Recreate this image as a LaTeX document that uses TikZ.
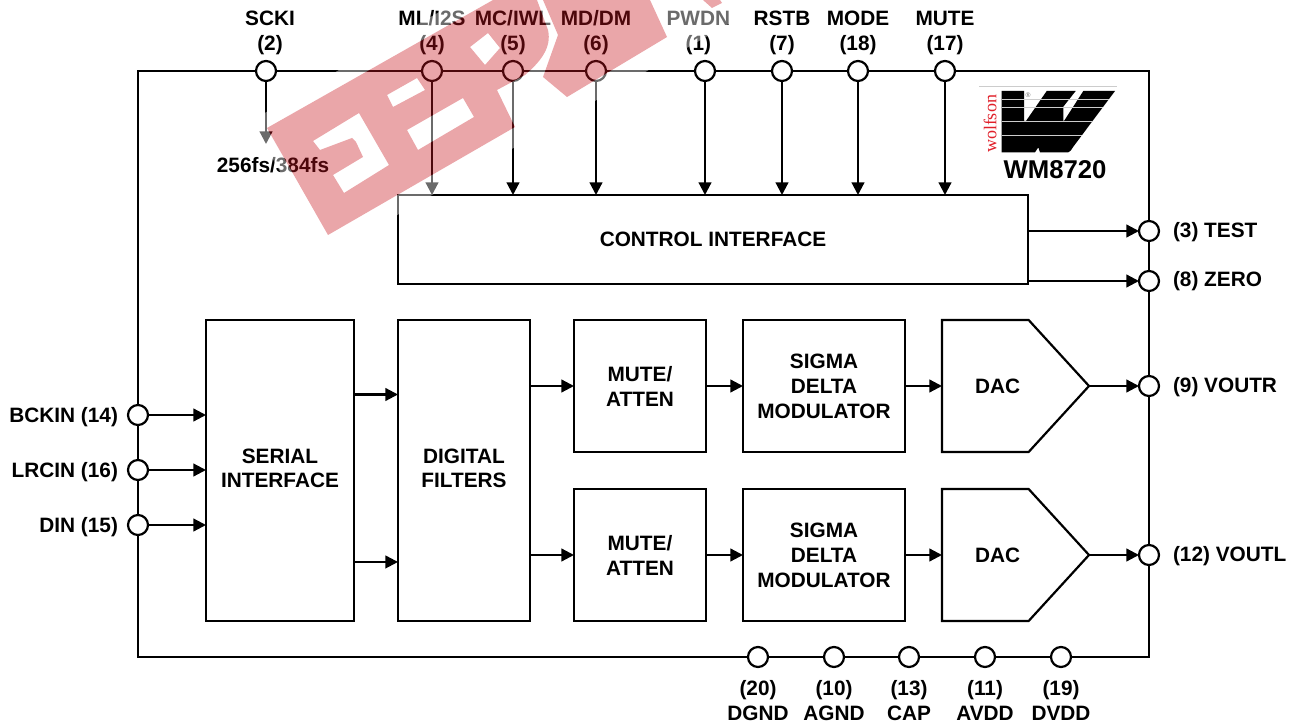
\documentclass[tikz,border=0pt]{standalone}
\usepackage{fontspec}
\setmainfont{Liberation Sans}
\newfontfamily\logofont{Liberation Serif}
\usepackage{xcolor}
\usepackage{tikz}
\usetikzlibrary{arrows.meta,positioning,shapes.symbols}
\definecolor{ink}{HTML}{000000}
\definecolor{wmred}{HTML}{C8141E}
\definecolor{logored}{HTML}{E0202A}
\definecolor{logoline}{HTML}{CCCCCC}
\newcommand{\wmshape}{
  (267,128) -- (328,235) -- (515,127) -- (497,90) -- (525,75) .. controls (540,62) and (552,48) .. (548,30) -- (537,0) -- (493,0) -- cycle
  (313,141) -- (359,113) -- (389,165) -- (344,193) -- (333,175) -- (363,157) -- (356,142) -- (352,138) -- (320,150) -- cycle
  (387,95) -- (417,78) -- (425,90) -- (393,107) -- cycle
  (407,130) -- (463,98) -- (474,117) -- (418,150) -- cycle
  (470,47) -- (488,33) -- (500,48) -- (485,65) -- cycle
  (543,0) -- (558,35) -- (543,77) -- (567,97) -- (667,37) -- (650,0) -- cycle
  (703,0) -- (712,8) -- (722,3) -- (720,0) -- cycle
}

\begin{document}
\begin{tikzpicture}[
  x=0.75pt, y=-0.75pt,
  every node/.style={font=\fontsize{15.6}{18.75}\selectfont\bfseries, inner sep=0pt, outer sep=0pt},
  blk/.style={rectangle, draw=ink, line width=1.65pt, align=center},
  sqblk/.style={blk, minimum width=99pt, minimum height=99pt},
  sdblk/.style={blk, minimum width=121.5pt, minimum height=99pt},
  dacblk/.style={signal, signal to=east, signal from=nowhere, signal pointer angle=95.1, draw=ink, line width=1.65pt, minimum width=110.25pt, minimum height=99pt},
  pin/.style={circle, draw=ink, fill=white, line width=1.65pt, minimum size=15pt},
  lbl/.style={align=center},
  arr/.style={-{Triangle[length=9.5pt,width=9.5pt]}, line width=1.65pt, draw=ink},
]
\useasboundingbox (0,0) rectangle (1299,723);
\node[blk, minimum width=758.25pt, minimum height=439.5pt] (chip) at (643.5,364) {};

\node[blk, minimum width=472.5pt, minimum height=66.75pt] (ctrl) at (713,239.5) {CONTROL INTERFACE};
\node[blk, minimum width=111pt, minimum height=225.75pt] (serial) at (280,470.5) {\raisebox{1.5pt}{\begin{tabular}{@{}c@{}}SERIAL\\[-1.1pt]INTERFACE\end{tabular}}};
\node[blk, minimum width=99pt, minimum height=225.75pt, right=33pt of serial] (filt) {\raisebox{1.5pt}{\begin{tabular}{@{}c@{}}DIGITAL\\[-1.1pt]FILTERS\end{tabular}}};
\node[sqblk, right=33pt of filt.north east, anchor=north west] (mutea) {MUTE/\\ATTEN};
\node[sqblk, below=27.75pt of mutea] (muteb) {MUTE/\\ATTEN};
\node[sdblk, right=27.75pt of mutea] (sigmaa) {SIGMA\\DELTA\\MODULATOR};
\node[sdblk, right=27.75pt of muteb] (sigmab) {SIGMA\\DELTA\\MODULATOR};
\node[dacblk, right=27.75pt of sigmaa] (daca) {};
\node[dacblk, right=27.75pt of sigmab] (dacb) {};
\node[right=24.75pt of daca.west] (dacatxt) {DAC};
\node[right=24.75pt of dacb.west] (dacbtxt) {DAC};

\node[pin] (pscki) at (266,71) {};
\node[pin] (pml) at (432,71) {};
\node[pin] (pmc) at (513,71) {};
\node[pin] (pmd) at (596,71) {};
\node[pin] (ppwdn) at (705,71) {};
\node[pin] (prstb) at (782,71) {};
\node[pin] (pmode) at (858,71) {};
\node[pin] (pmute) at (945,71) {};
\node[pin] (pbck) at (138,415) {};
\node[pin] (plrc) at (138,470) {};
\node[pin] (pdin) at (138,525) {};
\node[pin] (ptest) at (1149,231) {};
\node[pin] (pzero) at (1149,281) {};
\node[pin] (pvoutr) at (1149,386) {};
\node[pin] (pvoutl) at (1149,555) {};
\node[pin] (pdgnd) at (758,657) {};
\node[pin] (pagnd) at (834,657) {};
\node[pin] (pcap) at (909,657) {};
\node[pin] (pavdd) at (985,657) {};
\node[pin] (pdvdd) at (1061,657) {};

\node[lbl, above=4.9pt of pscki, xshift=3pt] (tscki) {SCKI\\(2)};
\node[lbl, above=4.9pt of pml] (tml) {ML/I2S\\(4)};
\node[lbl, above=4.9pt of pmc] (tmc) {MC/IWL\\(5)};
\node[lbl, above=4.9pt of pmd] (tmd) {MD/DM\\(6)};
\node[lbl, above=4.9pt of ppwdn, xshift=-5pt] (tpwdn) {PWDN\\(1)};
\node[lbl, above=4.9pt of prstb] (trstb) {RSTB\\(7)};
\node[lbl, above=4.9pt of pmode] (tmode) {MODE\\(18)};
\node[lbl, above=4.9pt of pmute] (tmute) {MUTE\\(17)};
\node[left=7.5pt of pbck, yshift=-1.5pt] (tbck) {BCKIN (14)};
\node[left=7.5pt of plrc, yshift=-1.5pt] (tlrc) {LRCIN (16)};
\node[left=7.5pt of pdin, yshift=-1.5pt] (tdin) {DIN (15)};
\node[right=10.5pt of ptest, yshift=-0.7pt] (ttest) {(3) TEST};
\node[right=10.5pt of pzero, yshift=0.2pt] (tzero) {(8) ZERO};
\node[right=10.5pt of pvoutr, yshift=-0.7pt] (tvoutr) {(9) VOUTR};
\node[right=10.5pt of pvoutl, yshift=-0.7pt] (tvoutl) {(12) VOUTL};
\node[lbl, below=9.7pt of pdgnd] (tdgnd) {(20)\\DGND};
\node[lbl, below=9.7pt of pagnd] (tagnd) {(10)\\AGND};
\node[lbl, below=9.7pt of pcap] (tcap) {(13)\\CAP};
\node[lbl, below=9.7pt of pavdd] (tavdd) {(11)\\AVDD};
\node[lbl, below=9.7pt of pdvdd] (tdvdd) {(19)\\DVDD};
\node (tfs) at (273,165) {256fs/384fs};
\coordinate (sckiend) at (266,144);

\draw[arr] (pscki) -- (sckiend);
\draw[arr] (pml) -- (pml |- ctrl.north);
\draw[arr] (pmc) -- (pmc |- ctrl.north);
\draw[arr] (pmd) -- (pmd |- ctrl.north);
\draw[arr] (ppwdn) -- (ppwdn |- ctrl.north);
\draw[arr] (prstb) -- (prstb |- ctrl.north);
\draw[arr] (pmode) -- (pmode |- ctrl.north);
\draw[arr] (pmute) -- (pmute |- ctrl.north);
\draw[arr] (ctrl.east |- ptest) -- (ptest);
\draw[arr] (ctrl.east |- pzero) -- (pzero);
\draw[arr] (pbck) -- (pbck -| serial.west);
\draw[arr] (plrc) -- (plrc -| serial.west);
\draw[arr] (pdin) -- (pdin -| serial.west);
\draw[arr] ([yshift=57pt]serial.east) -- ([yshift=57pt]filt.west);
\draw[arr] ([yshift=-68.6pt]serial.east) -- ([yshift=-68.6pt]filt.west);
\draw[arr] (filt.east |- mutea) -- (mutea);
\draw[arr] (filt.east |- muteb) -- (muteb);
\draw[arr] (mutea) -- (sigmaa);
\draw[arr] (muteb) -- (sigmab);
\draw[arr] (sigmaa) -- (daca);
\draw[arr] (sigmab) -- (dacb);
\draw[arr] (daca.east) -- (pvoutr);
\draw[arr] (dacb.east) -- (pvoutl);

\draw[logoline, line width=0.75pt] (979,87) -- (1117,87);
\fill[ink] (1001.7,91) -- (1024,91) -- (1024,121) -- (1026,121) -- (1046.7,91) -- (1075.7,91) -- (1063.3,106.7) -- (1063.3,121) -- (1064,121) -- (1083.3,91) -- (1115,91) -- (1073.3,146.7) .. controls (1071,150) and (1070,152.3) .. (1068.3,152.3) -- (1040,152.3) -- (1038.3,147.3) -- (1035,152.3) -- (1001.7,152.3) -- cycle;
\draw[logoline, line width=0.6pt] (1001.7,99) -- (1109,99);
\draw[logoline, line width=0.6pt] (1001.7,107.7) -- (1102.5,107.7);
\draw[logoline, line width=0.6pt] (1001.7,121) -- (1092.5,121);
\draw[logoline, line width=0.6pt] (1001.7,135.3) -- (1082,135.3);
\node[font=\logofont\fontsize{13.5}{14}\selectfont, text=logored, rotate=90] (tlogo) at (990,124) {wolfson};
\node[font=\fontsize{5}{6}\selectfont, text=ink!60] (tregd) at (1028,95.5) {®};
\node[font=\fontsize{19.3}{22}\selectfont\bfseries] (tpart) at (1055,170) {WM8720};

\fill[white, fill opacity=.42, even odd rule] (251,121) -- (328,255) -- (770,0) -- (460,0) -- cycle \wmshape;
\fill[wmred, fill opacity=.38, even odd rule] \wmshape;
\end{tikzpicture}
\end{document}
